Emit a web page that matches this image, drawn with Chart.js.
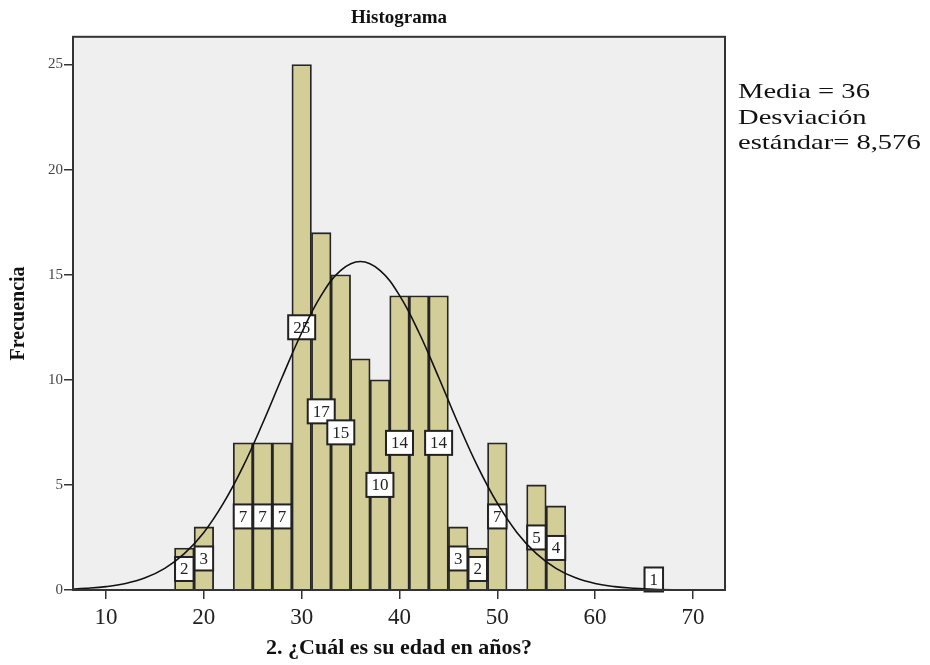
<!DOCTYPE html>
<html lang="es">
<head>
<meta charset="utf-8">
<title>Histograma</title>
<script src="https://cdn.jsdelivr.net/npm/chart.js@4.4.1/dist/chart.umd.min.js"></script>
<style>
    body { margin: 0; background: #ffffff; }
    #contenedor { width: 930px; height: 665px; }
</style>
</head>
<body>
<div id="contenedor"><canvas id="histograma"></canvas></div>
<script>
// Centro de cada intervalo de edad (intervalos de 2 años)
const edades = [18, 20, 24, 26, 28, 30, 32, 34, 36, 38, 40, 42, 44, 46, 48, 50, 54, 56, 66];
// Frecuencia de cada intervalo
const frecuencias = [2, 3, 7, 7, 7, 25, 17, 15, 11, 10, 14, 14, 14, 3, 2, 7, 5, 4, 1];
// Barras que llevan la etiqueta con su valor
const conEtiqueta = [true, true, true, true, true, true, true, true, false, true, true, false, true, true, true, true, true, true, true];

// Curva normal ajustada (media 36, desv. 8,576)
const curvaEdad = [6, 8, 10, 12, 14, 16, 18, 20, 22, 24, 26, 28, 30, 32, 34, 36, 38, 40, 42, 44, 46, 48, 50, 52, 54, 56, 58, 60, 62, 64, 66, 68, 70, 72, 74];
const curvaFrec = [0.03, 0.08, 0.16, 0.31, 0.58, 1.03, 1.73, 2.74, 4.13, 5.87, 7.92, 10.12, 12.24, 14.02, 15.21, 15.63, 15.21, 14.02, 12.24, 10.12, 7.92, 5.87, 4.13, 2.74, 1.73, 1.03, 0.58, 0.31, 0.16, 0.08, 0.03, 0.01, 0.01, 0, 0];

const marcasX = [10, 20, 30, 40, 50, 60, 70];
const marcasY = [0, 5, 10, 15, 20, 25];

const textoEstadisticos = ['Media = 36', 'Desviación', 'estándar= 8,576'];

const fuente = "'Liberation Serif', 'Times New Roman', serif";

// Fondo gris y marco del área de trazado
const marcoGrafico = {
    id: 'marcoGrafico',
    beforeDatasetsDraw(chart) {
        const { ctx, chartArea: a } = chart;
        ctx.save();
        ctx.fillStyle = '#efefef';
        ctx.fillRect(a.left, a.top, a.right - a.left, a.bottom - a.top);
        ctx.restore();
    },
    afterDatasetsDraw(chart) {
        const { ctx, chartArea: a } = chart;
        ctx.save();
        ctx.strokeStyle = '#333333';
        ctx.lineWidth = 2;
        ctx.strokeRect(a.left, a.top, a.right - a.left, a.bottom - a.top);
        ctx.restore();
    }
};

// Cajitas blancas con la frecuencia, a media altura de cada barra
const etiquetasBarras = {
    id: 'etiquetasBarras',
    afterDatasetDraw(chart, args) {
        if (args.index !== 0) return;
        const ctx = chart.ctx;
        const y = chart.scales.y;
        ctx.save();
        ctx.font = '17px ' + fuente;
        ctx.textAlign = 'center';
        ctx.textBaseline = 'middle';
        args.meta.data.forEach(function (barra, i) {
            if (!conEtiqueta[i]) return;
            const texto = String(frecuencias[i]);
            const ancho = ctx.measureText(texto).width + 10;
            const alto = 24;
            const cy = y.getPixelForValue(frecuencias[i] / 2);
            ctx.fillStyle = '#ffffff';
            ctx.fillRect(barra.x - ancho / 2, cy - alto / 2, ancho, alto);
            ctx.strokeStyle = '#222222';
            ctx.lineWidth = 2;
            ctx.strokeRect(barra.x - ancho / 2, cy - alto / 2, ancho, alto);
            ctx.fillStyle = '#222222';
            ctx.fillText(texto, barra.x, cy + 1);
        });
        ctx.restore();
    }
};

// Media y desviación a la derecha del gráfico
const estadisticos = {
    id: 'estadisticos',
    afterDraw(chart) {
        const ctx = chart.ctx;
        ctx.save();
        ctx.translate(738, 0);
        ctx.scale(1.36, 1);
        ctx.font = '21px ' + fuente;
        ctx.fillStyle = '#111111';
        ctx.textAlign = 'left';
        ctx.textBaseline = 'alphabetic';
        textoEstadisticos.forEach(function (linea, i) {
            ctx.fillText(linea, 0, 98 + i * 25.7);
        });
        ctx.restore();
    }
};

function dibujarHistograma() {

    let dados = {
        datasets: [{
            type: 'bar',
            label: 'Frecuencia',
            data: edades.map((e, i) => ({ x: e, y: frecuencias[i] })),
            backgroundColor: '#d3cd97',
            borderColor: '#262626',
            borderWidth: 1.8,
            borderSkipped: 'bottom',
            barPercentage: 1,
            categoryPercentage: 1,
            order: 2
        }, {
            type: 'line',
            label: 'Normal',
            data: curvaEdad.map((e, i) => ({ x: e, y: curvaFrec[i] })),
            borderColor: '#111111',
            borderWidth: 1.6,
            pointRadius: 0,
            fill: false,
            tension: 0.4,
            order: 1
        }]
    };

    const config = {
        data: dados,
        options: {
            responsive: true,
            maintainAspectRatio: false,
            animation: false,
            layout: {
                padding: { left: 0, right: 205, top: 0, bottom: 0 }
            },
            plugins: {
                legend: { display: false },
                tooltip: { enabled: false },
                title: {
                    display: true,
                    text: 'Histograma',
                    fullSize: false,
                    color: '#111111',
                    font: { family: fuente, size: 19, weight: 'bold' },
                    padding: { top: 7, bottom: 7 }
                }
            },
            scales: {
                x: {
                    type: 'linear',
                    offset: false,
                    min: 6.62,
                    max: 73.28,
                    afterBuildTicks: function (escala) {
                        escala.ticks = marcasX.map(v => ({ value: v }));
                    },
                    afterFit: function (escala) {
                        escala.height = 75;
                    },
                    border: { display: false },
                    grid: {
                        display: true,
                        offset: false,
                        drawOnChartArea: false,
                        drawTicks: true,
                        tickLength: 9,
                        color: '#333333',
                        lineWidth: 1.5
                    },
                    ticks: {
                        color: '#222222',
                        padding: 5,
                        maxRotation: 0,
                        font: { family: fuente, size: 23 }
                    },
                    title: {
                        display: true,
                        text: '2. ¿Cuál es su edad en años?',
                        color: '#111111',
                        font: { family: fuente, size: 22, weight: 'bold' },
                        padding: { top: 0, bottom: 3 }
                    }
                },
                y: {
                    min: 0,
                    max: 26.32,
                    afterBuildTicks: function (escala) {
                        escala.ticks = marcasY.map(v => ({ value: v }));
                    },
                    afterFit: function (escala) {
                        escala.width = 73;
                    },
                    border: { display: false },
                    grid: {
                        display: true,
                        drawOnChartArea: false,
                        drawTicks: true,
                        tickLength: 9,
                        color: '#333333',
                        lineWidth: 1.5
                    },
                    ticks: {
                        color: '#444444',
                        padding: 1,
                        font: { family: fuente, size: 15 }
                    },
                    title: {
                        display: true,
                        text: 'Frecuencia',
                        color: '#111111',
                        font: { family: fuente, size: 20, weight: 'bold' },
                        padding: { top: 7, bottom: 0 }
                    }
                }
            }
        },
        plugins: [marcoGrafico, etiquetasBarras, estadisticos]
    };

    let histograma = new Chart(
        document.getElementById('histograma'),
        config
    );
}

dibujarHistograma();
</script>
</body>
</html>
